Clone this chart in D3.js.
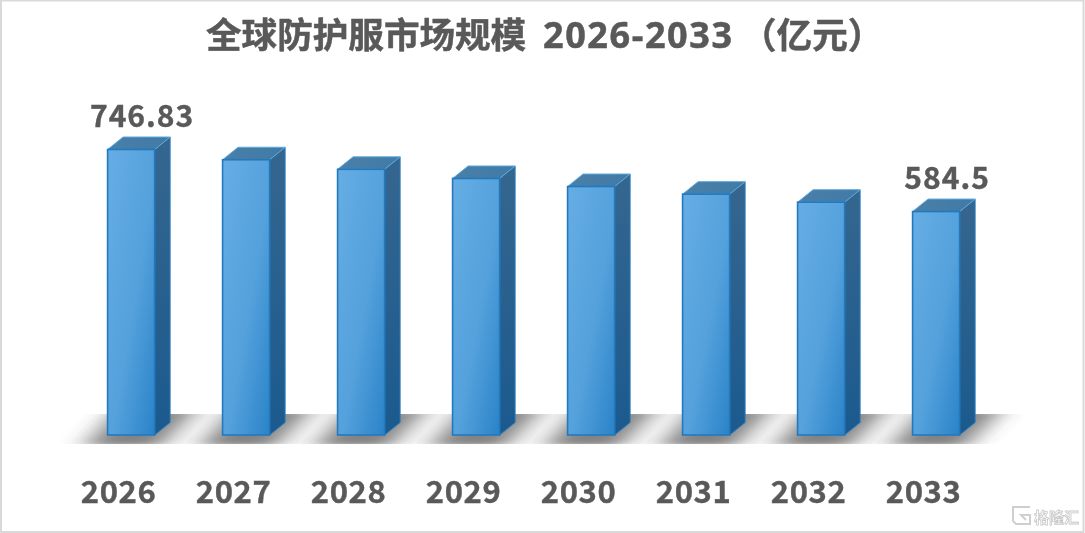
<!DOCTYPE html>
<html><head><meta charset="utf-8">
<script src="https://cdn.jsdelivr.net/npm/d3@7/dist/d3.min.js"></script>
<style>html,body{margin:0;padding:0;background:#fff}svg{display:block}text{font-family:"Noto Sans CJK SC","Open Sans",sans-serif}</style>
</head><body><svg id="c" width="1085" height="533"></svg>
<script>
const years=["2026","2027","2028","2029","2030","2031","2032","2033"];
const values=[746.83,720,695,671,650,630,609,584.5];
const shownLabels=["746.83",null,null,null,null,null,null,"584.5"];
const titleCn="全球防护服市场规模";
const titleYears="2026-2033";
const titleUnit="（亿元）";
const svg=d3.select("#c");
const W=1085,H=533;
const x=d3.scaleBand().domain(years).range([73.6,993.6]).paddingInner(0.591).paddingOuter(0.2955);
const y=d3.scaleLinear().domain([0,746.83]).range([435,149.5]);
const dx=15.5,dy=-12.5;
const defs=svg.append("defs");
function lg(id,x1,y1,x2,y2,stops){const g=defs.append("linearGradient").attr("id",id).attr("x1",x1).attr("y1",y1).attr("x2",x2).attr("y2",y2);
 stops.forEach(s=>g.append("stop").attr("offset",s[0]).attr("stop-color",s[1]));}
lg("front",0,0,1,1,[[0,"#66ADE4"],[0.55,"#54A1DC"],[1,"#2A83C8"]]);
lg("side",0,0,0,1,[[0,"#35668F"],[1,"#1B5A8E"]]);
lg("top",0,0,1,0,[[0,"#4A80A9"],[1,"#3F7AA6"]]);
const f=defs.append("filter").attr("id","blur").attr("x","-60%").attr("y","-60%").attr("width","220%").attr("height","220%");
f.append("feGaussianBlur").attr("stdDeviation","14 3");
const soft=defs.append("filter").attr("id","soft");
soft.append("feGaussianBlur").attr("stdDeviation","0.5");
defs.append("clipPath").attr("id","floor").append("rect").attr("x",0).attr("y",414).attr("width",W).attr("height",30);
svg.append("rect").attr("x",1).attr("y",0.5).attr("width",W-2.5).attr("height",H-1.5).attr("fill","#fff").attr("stroke","#d9d9d9").attr("stroke-width",2);
const shadow=svg.append("g").attr("clip-path","url(#floor)").style("mix-blend-mode","multiply");
years.forEach(k=>{const x0=x(k),w=x.bandwidth();
 shadow.append("path").attr("filter","url(#blur)").attr("fill","#3c3c3c").attr("opacity",0.64)
  .attr("d",d3.line()([[x0-22,446],[x0+w+6,446],[x0+w+dx+26,410],[x0+10,410]]));
});
const bars=svg.append("g");
years.forEach((k,i)=>{const x0=x(k),w=x.bandwidth(),t=y(values[i]),b=y(0);const g=bars.append("g");
 g.append("path").attr("fill","url(#side)").attr("stroke","#2A7FC2").attr("stroke-width",1).attr("stroke-linejoin","round")
  .attr("d",d3.line()([[x0+w,t],[x0+w+dx,t+dy],[x0+w+dx,b+dy],[x0+w,b]])+"Z");
 g.append("path").attr("fill","url(#top)").attr("stroke","#5FA8DC").attr("stroke-width",1).attr("stroke-linejoin","round")
  .attr("d",d3.line()([[x0,t],[x0+dx,t+dy],[x0+w+dx,t+dy],[x0+w,t]])+"Z");
 g.append("rect").attr("x",x0).attr("y",t).attr("width",w).attr("height",b-t).attr("fill","url(#front)").attr("stroke","#2379BE").attr("stroke-width",1.6);
});
svg.append("g").selectAll("text").data(years).join("text")
 .attr("x",d=>x(d)+x.bandwidth()/2-12.5).attr("y",503).attr("text-anchor","middle")
 .attr("font-family","'Open Sans','Noto Sans',sans-serif").attr("font-weight",700).attr("font-size",31).attr("letter-spacing",0.6).attr("stroke","#595959").attr("stroke-width",0.4).attr("fill","#595959").text(d=>d);
svg.append("g").selectAll("text").data(years.map((d,i)=>[d,shownLabels[i],values[i]]).filter(d=>d[1])).join("text")
 .attr("x",d=>x(d[0])+x.bandwidth()/2+11).attr("y",d=>y(d[2])-22.5).attr("text-anchor","middle")
 .attr("font-family","'Open Sans','Noto Sans',sans-serif").attr("font-weight",700).attr("font-size",30).attr("letter-spacing",1).attr("stroke","#595959").attr("stroke-width",0.4).attr("fill","#595959").text(d=>d[1]);
const ttl=svg.append("text").attr("x",206).attr("y",48).attr("font-family","'Noto Sans CJK SC',sans-serif")
 .attr("font-weight",700).attr("font-size",35.6).attr("fill","#595959").attr("stroke","#595959").attr("stroke-width",0.5);
ttl.append("tspan").text(titleCn);
ttl.append("tspan").attr("x",543).attr("font-family","'Open Sans',sans-serif").attr("font-size",36).attr("letter-spacing",1.6).text(titleYears);
ttl.append("tspan").attr("x",741).text(titleUnit);
const wm=svg.append("g").attr("fill","none").attr("stroke","#cfcfcf").attr("stroke-width",2).attr("filter","url(#soft)");
wm.append("path").attr("d",d3.line()([[1030,507],[1013,507],[1013,521],[1016,524],[1030,524],[1030,515],[1021,515],[1026,520]]));
svg.append("text").attr("x",1034).attr("y",523).attr("font-family","'Noto Sans CJK SC'").attr("font-size",15).attr("font-weight",700).attr("fill","#fff").attr("stroke","#c8c8c8").attr("stroke-width",0.8).attr("filter","url(#soft)").text("格隆汇");
</script></body></html>
